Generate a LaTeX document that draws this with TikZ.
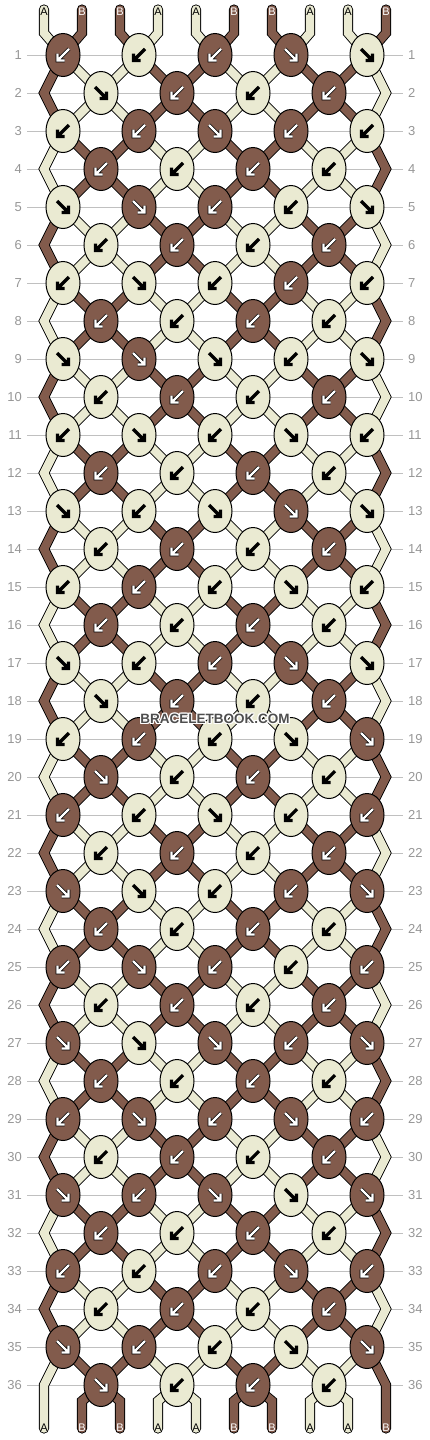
\documentclass[tikz,border=0pt]{standalone}
\usepackage{fontspec}
\setsansfont{Liberation Sans}
\usetikzlibrary{shapes.geometric}
\usetikzlibrary{backgrounds}
\usetikzlibrary{calc}
\definecolor{threadb}{RGB}{130,91,76}
\definecolor{threadc}{RGB}{234,234,210}
\definecolor{rowline}{RGB}{192,192,192}
\definecolor{rownum}{RGB}{150,150,150}
\definecolor{wmgray}{RGB}{78,78,78}
\tikzset{knot/.style={ellipse, draw, line width=1pt, minimum width=34pt, minimum height=43pt, inner sep=0pt},
  strand/.style={draw=black, line width=0.9pt, double=thread#1, double distance=8.4pt, line join=miter},
  arrow dark/.style={line width=3.2pt, black, line join=miter},
  arrow light/.style={line width=0.7pt, black, double=white, double distance=2.4pt, line join=miter},
  rownr/.style={font=\fontsize{13}{13}\selectfont\sffamily, text=rownum, inner sep=0pt},
  endlabel/.style={font=\fontsize{11}{11}\selectfont\sffamily, inner sep=0pt},
  watermark/.style={font=\fontsize{13.5}{13.5}\selectfont\sffamily\bfseries, inner sep=0pt}}
% colour/direction of every knot, row by row
\newcommand\knotrows{%
1/{b/l,c/l,b/l,b/r,c/r},%
2/{c/r,b/l,c/l,b/l},%
3/{c/l,b/l,b/r,b/l,c/l},%
4/{b/l,c/l,b/l,c/l},%
5/{c/r,b/r,b/l,c/l,c/r},%
6/{c/l,b/l,c/l,b/l},%
7/{c/l,c/r,c/l,b/l,c/l},%
8/{b/l,c/l,b/l,c/l},%
9/{c/r,b/r,c/r,c/l,c/r},%
10/{c/l,b/l,c/l,b/l},%
11/{c/l,c/r,c/l,c/r,c/l},%
12/{b/l,c/l,b/l,c/l},%
13/{c/r,c/l,c/r,b/r,c/r},%
14/{c/l,b/l,c/l,b/l},%
15/{c/l,b/l,c/l,c/r,c/l},%
16/{b/l,c/l,b/l,c/l},%
17/{c/r,c/l,b/l,b/r,c/r},%
18/{c/r,b/l,c/l,b/l},%
19/{c/l,b/l,c/l,c/r,b/r},%
20/{b/r,c/l,b/l,c/l},%
21/{b/l,c/l,c/r,c/l,b/l},%
22/{c/l,b/l,c/l,b/l},%
23/{b/r,c/r,c/l,b/l,b/r},%
24/{b/l,c/l,b/l,c/l},%
25/{b/l,b/r,b/l,c/l,b/l},%
26/{c/l,b/l,c/l,b/l},%
27/{b/r,c/r,b/r,b/l,b/r},%
28/{b/l,c/l,b/l,c/l},%
29/{b/l,b/r,b/l,b/r,b/l},%
30/{c/l,b/l,c/l,b/l},%
31/{b/r,b/l,b/r,c/r,b/r},%
32/{b/l,c/l,b/l,c/l},%
33/{b/l,c/l,b/l,b/r,b/l},%
34/{c/l,b/l,c/l,b/l},%
35/{b/r,b/l,c/l,c/r,b/r},%
36/{b/r,c/l,b/l,c/l}}
\newcommand\threadends{1/c/A/black,2/b/B/white,3/b/B/white,4/c/A/black,5/c/A/black,6/b/B/white,7/b/B/white,8/c/A/black,9/c/A/black,10/b/B/white}

\begin{document}
\begin{tikzpicture}[x=1pt,y=-1pt]
\useasboundingbox (0,0) rectangle (430,1440);

% string ends and edge turns
\foreach \ps/\cl/\lab/\txt in \threadends {
  \coordinate (te-\ps) at ({6+38*\ps},9.5);
  \coordinate (tb-\ps) at ({6+38*\ps},33);
  \coordinate (bb-\ps) at ({6+38*\ps},1401);
  \coordinate (be-\ps) at ({6+38*\ps},1428.5);
}
\foreach \rw in {2,4,...,36} {
  \coordinate (el-\rw) at (44,{17+38*\rw});
  \coordinate (er-\rw) at (386,{17+38*\rw});
}

% knots
\foreach \rw/\knots in \knotrows {
  \foreach \cl/\dr [count=\kn] in \knots {
    \pgfmathsetmacro\kx{76*\kn+ifthenelse(isodd(\rw),-13,25)}
    \node[knot, fill=thread\cl] (n-\rw-\kn) at (\kx,{17+38*\rw}) {};
    \ifnum\pdfstrcmp{\dr}{r}=0 \def\flip{-1}\else \def\flip{1}\fi
    \begin{scope}[shift={(n-\rw-\kn.center)}, xscale=\flip]
      \ifnum\pdfstrcmp{\cl}{b}=0
        \draw[arrow light] (6,-6) -- (-5.5,5.5) (-5.5,-1.5) -- (-5.5,5.5) -- (1.5,5.5);
      \else
        \draw[arrow dark] (6,-6) -- (-5.5,5.5) (-5.5,-1.5) -- (-5.5,5.5) -- (1.5,5.5);
      \fi
    \end{scope}
  }
}

% row numbers
\foreach \rw in {1,...,36} {
  \node[rownr, anchor=east] (ln-\rw) at (22,{17+38*\rw}) {\rw};
  \node[rownr, anchor=west] (rn-\rw) at (408,{17+38*\rw}) {\rw};
}

\begin{scope}[on background layer]
  \foreach \rw in {1,...,36} {
    \draw[rowline, line width=1pt] ([xshift=5pt]ln-\rw.east) -- ([xshift=-5pt]rn-\rw.west);
  }
  \foreach \ps/\cl/\lab/\txt in \threadends {
    \pgfmathtruncatemacro\kn{(\ps+1)/2}
    \draw[strand=\cl, line cap=round] (te-\ps) -- (tb-\ps) -- (n-1-\kn.center);
  }
  \foreach \rw/\knots in \knotrows {
    \foreach \cl/\dr [count=\kn] in \knots {
      \ifnum\pdfstrcmp{\cl}{b}=0 \def\opp{c}\else \def\opp{b}\fi
      \pgfmathtruncatemacro\rn{\rw+1}
      \pgfmathtruncatemacro\rnn{\rw+2}
      \pgfmathtruncatemacro\kl{\kn-1}
      \pgfmathtruncatemacro\kr{\kn+1}
      \ifodd\rw\relax
        \ifnum\pdfstrcmp{\dr}{l}=0 \edef\lcol{\cl}\edef\rcol{\opp}\else \edef\lcol{\opp}\edef\rcol{\cl}\fi
        \ifnum\kn=1
          \ifnum\rw<35 \draw[strand=\lcol] (n-\rw-1.center) -- (el-\rn) -- (n-\rnn-1.center);
          \else \draw[strand=\lcol, line cap=round] (n-\rw-1.center) -- (el-\rn) -- (be-1); \fi
        \else
          \draw[strand=\lcol] (n-\rw-\kn.center) -- (n-\rn-\kl.center);
        \fi
        \ifnum\kn=5
          \ifnum\rw<35 \draw[strand=\rcol] (n-\rw-5.center) -- (er-\rn) -- (n-\rnn-5.center);
          \else \draw[strand=\rcol, line cap=round] (n-\rw-5.center) -- (er-\rn) -- (be-10); \fi
        \else
          \draw[strand=\rcol] (n-\rw-\kn.center) -- (n-\rn-\kn.center);
        \fi
      \else
        \ifnum\rw<36
          \draw[strand=\cl] (n-\rw-\kn.center) -- (n-\rn-\kn.center);
          \draw[strand=\cl] (n-\rw-\kn.center) -- (n-\rn-\kr.center);
        \else
          \pgfmathtruncatemacro\pl{2*\kn}
          \pgfmathtruncatemacro\pr{2*\kn+1}
          \draw[strand=\cl, line cap=round] (n-\rw-\kn.center) -- (bb-\pl) -- (be-\pl);
          \draw[strand=\cl, line cap=round] (n-\rw-\kn.center) -- (bb-\pr) -- (be-\pr);
        \fi
      \fi
    }
  }
\end{scope}

% letters on the string ends
\foreach \ps/\cl/\lab/\txt in \threadends {
  \node[endlabel, text=\txt] (lt-\ps) at ({6+38*\ps},12) {\lab};
  \node[endlabel, text=\txt] (lb-\ps) at ({6+38*\ps},1427.5) {\lab};
}

\foreach \dx/\dy [count=\i] in {1/0,-1/0,0/1,0/-1,1/1,1/-1,-1/1,-1/-1}
  \node[watermark, text=white] (wm-\i) at ({215+\dx},{719+\dy}) {BRACELETBOOK.COM};
\node[watermark, text=wmgray] (wm) at (215,719) {BRACELETBOOK.COM};
\end{tikzpicture}
\end{document}
